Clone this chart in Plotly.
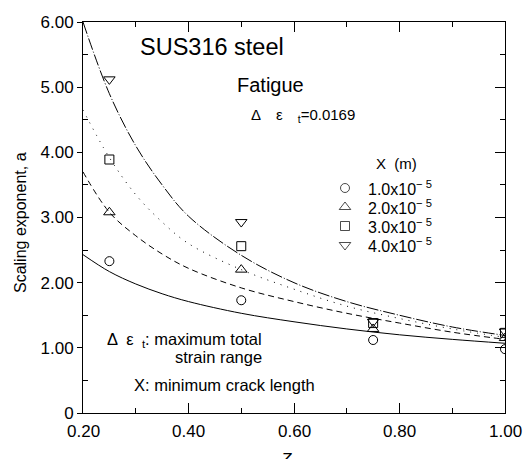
import plotly.graph_objects as go

# ---- data ----
z_pts = [0.25, 0.50, 0.75, 1.00]
a_10 = [2.33, 1.73, 1.12, 0.98]
a_20 = [3.08, 2.20, 1.29, 1.15]
a_30 = [3.89, 2.56, 1.38, 1.23]
a_40 = [5.12, 2.93, 1.40, 1.25]

z_fit = [0.20, 0.25, 0.30, 0.35, 0.40, 0.50, 0.60, 0.70, 0.80, 0.90, 1.00]
fit_10 = [2.43, 2.17, 1.98, 1.83, 1.71, 1.53, 1.40, 1.29, 1.20, 1.13, 1.07]
fit_20 = [3.70, 3.08, 2.72, 2.44, 2.22, 1.92, 1.71, 1.53, 1.38, 1.24, 1.13]
fit_30 = [4.65, 3.92, 3.35, 2.93, 2.60, 2.20, 1.90, 1.64, 1.45, 1.29, 1.16]
fit_40 = [6.00, 4.90, 4.10, 3.50, 3.02, 2.42, 2.00, 1.71, 1.50, 1.32, 1.19]

series_names = ["1.0x10<sup>\u2212 5</sup>", "2.0x10<sup>\u2212 5</sup>",
                "3.0x10<sup>\u2212 5</sup>", "4.0x10<sup>\u2212 5</sup>"]
legend_title = "X  (m)"

x_tickvals = [0.2, 0.4, 0.6, 0.8, 1.0]
x_ticktext = ["0.20", "0.40", "0.60", "0.80", "1.00"]
y_tickvals = [0, 1, 2, 3, 4, 5, 6]
y_ticktext = ["0", "1.00", "2.00", "3.00", "4.00", "5.00", "6.00"]

FONT = "Liberation Sans, Arial, Helvetica, sans-serif"
SP = "\u2003"   # wide space
SP2 = "\u2002"  # medium space

# layout constants (pixels)
W, H = 525, 459
L, R, T, B = 83, 20, 22, 46
PW, PH = W - L - R, H - T - B


def px_x(p):
    return (p - L) / PW


def px_y(p):
    return (H - B - p) / PH


fig = go.Figure()

fits = [fit_10, fit_20, fit_30, fit_40]
dashes = ["solid", "6px,4px", "1px,6px", "12px,2px,1px,2px"]
for f, d in zip(fits, dashes):
    fig.add_trace(go.Scatter(x=z_fit, y=f, mode="lines", line_shape="spline",
                             line=dict(color="black", width=1, dash=d),
                             showlegend=False, hoverinfo="skip"))

symbols = ["circle-open", "triangle-up-open", "square-open", "triangle-down-open"]
sizes = [9, 10, 9, 10]
for vals, sym, sz, nm in zip([a_10, a_20, a_30, a_40], symbols, sizes, series_names):
    fig.add_trace(go.Scatter(x=z_pts, y=vals, mode="markers", name=nm, showlegend=False,
                             hoverinfo="skip",
                             marker=dict(symbol=sym, size=sz, color="black",
                                         line=dict(color="black", width=1))))

# hand-made legend: symbols on a pixel-scaled overlay axis pair
leg_sym_x = 345
leg_text_x = 366
leg_row_y = [188, 207, 226, 245]
fig.add_trace(go.Scatter(x=[leg_sym_x] * 4, y=leg_row_y, xaxis="x2", yaxis="y3",
                         mode="markers", showlegend=False, hoverinfo="skip",
                         marker=dict(symbol=symbols, size=sizes, color="black",
                                     line=dict(color="black", width=1))))
for nm, yy in zip(series_names, leg_row_y):
    fig.add_annotation(text=nm, xref="paper", yref="paper", x=px_x(leg_text_x), y=px_y(yy),
                       xanchor="left", yanchor="middle", showarrow=False,
                       font=dict(size=16, family=FONT, color="black"))
fig.add_annotation(text=legend_title, xref="paper", yref="paper", x=px_x(374), y=px_y(163),
                   xanchor="left", yanchor="middle", showarrow=False,
                   font=dict(size=15, family=FONT, color="black"))

# right-side axis copy for inside ticks
fig.add_trace(go.Scatter(x=[0.2], y=[0], yaxis="y2", mode="markers",
                         marker=dict(opacity=0), showlegend=False, hoverinfo="skip"))

minor_y = dict(tickvals=[0.5, 1.5, 2.5, 3.5, 4.5, 5.5], ticks="inside",
               ticklen=5, tickcolor="black", tickwidth=1)

fig.update_layout(
    width=W, height=H,
    margin=dict(l=L, r=R, t=T, b=B, autoexpand=False),
    plot_bgcolor="white", paper_bgcolor="white",
    font=dict(family=FONT, color="black", size=16),
    showlegend=False,
    xaxis=dict(range=[0.2, 1.0], tickvals=x_tickvals, showticklabels=False,
               ticks="inside", ticklen=10, tickwidth=1, tickcolor="black",
               minor=dict(tickvals=[0.3, 0.5, 0.7, 0.9], ticks="inside", ticklen=5,
                          tickcolor="black", tickwidth=1),
               showline=True, linecolor="black", linewidth=1, mirror="ticks",
               showgrid=False, zeroline=False, automargin=False),
    yaxis=dict(range=[0, 6], tickvals=y_tickvals, ticktext=y_ticktext,
               ticks="outside", ticklen=5, tickwidth=1, tickcolor="black",
               minor=minor_y,
               showline=True, linecolor="black", linewidth=1,
               showgrid=False, zeroline=False, tickfont=dict(size=17),
               automargin=False),
    yaxis2=dict(range=[0, 6], overlaying="y", side="right", tickvals=y_tickvals,
                showticklabels=False, ticks="inside", ticklen=10, tickcolor="black",
                minor=minor_y,
                showline=True, linecolor="black", linewidth=1,
                showgrid=False, zeroline=False, automargin=False),
    xaxis2=dict(range=[L, W - R], overlaying="x", visible=False, automargin=False),
    yaxis3=dict(range=[H - B, T], overlaying="y", visible=False, automargin=False),
)

# x tick labels
for v, t in zip(x_tickvals, x_ticktext):
    fig.add_annotation(text=t, xref="x", yref="paper", x=v, y=0, yshift=-7,
                       xanchor="center", yanchor="top", showarrow=False,
                       font=dict(size=17, family=FONT, color="black"))

ann = [
    dict(text="SUS316 steel", x=138, y=47, size=23.5, xanchor="left"),
    dict(text="Fatigue", x=235, y=85, size=20, xanchor="left"),
    dict(text="\u0394" + SP + "\u03b5" + SP + "<sub>t</sub>=0.0169", x=249, y=115,
         size=15, xanchor="left"),
    dict(text="\u0394" + SP2 + "\u03b5" + SP2 + "<sub>t</sub>: maximum total", x=264, y=340,
         size=16.5, xanchor="right"),
    dict(text="strain range", x=264, y=357, size=16.5, xanchor="right"),
    dict(text="X: minimum crack length", x=132, y=385, size=16.5, xanchor="left"),
]
for a in ann:
    fig.add_annotation(text=a["text"], xref="paper", yref="paper",
                       x=px_x(a["x"]), y=px_y(a["y"]),
                       xanchor=a["xanchor"], yanchor="middle", showarrow=False,
                       font=dict(size=a["size"], family=FONT, color="black"))

# axis titles
fig.add_annotation(text="Scaling exponent, a", xref="paper", yref="paper",
                   x=px_x(20), y=px_y(223), textangle=-90,
                   xanchor="center", yanchor="middle", showarrow=False,
                   font=dict(size=16, family=FONT, color="black"))
fig.add_annotation(text="<i>Z</i>", xref="paper", yref="paper",
                   x=px_x(286), y=px_y(448),
                   xanchor="center", yanchor="top", showarrow=False,
                   font=dict(size=17, family=FONT, color="black"))

fig.write_html("out.html", config={"displayModeBar": False, "staticPlot": True},
               post_script="document.body.style.margin='0px';"
                           "document.body.style.overflow='hidden';")
